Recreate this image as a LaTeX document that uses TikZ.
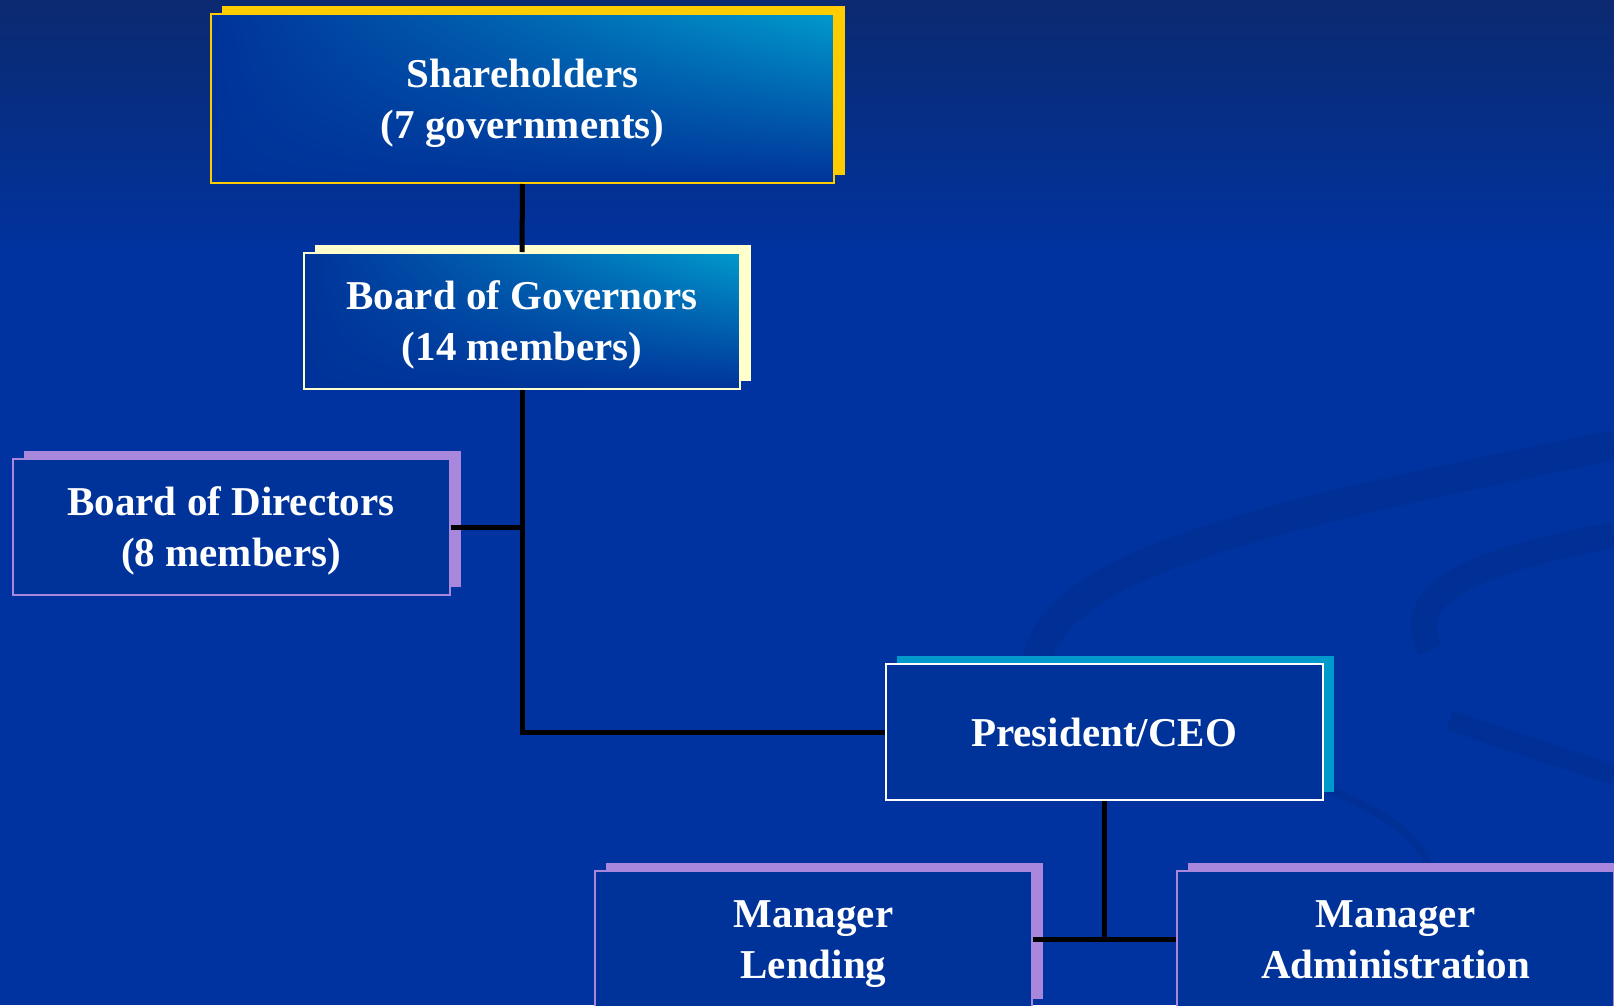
\documentclass[tikz,border=0pt]{standalone}
\usepackage{fontspec}
\setmainfont{Liberation Serif}
\usetikzlibrary{calc,shadows,shadings}
\definecolor{bgtop}{HTML}{0B2A70}
\definecolor{bgblue}{HTML}{0033A0}
\definecolor{boxblue}{HTML}{003399}
\definecolor{lightcyan}{HTML}{009ACC}
\definecolor{gold}{HTML}{FFCC00}
\definecolor{cream}{HTML}{FFFFCC}
\definecolor{lilac}{HTML}{A987DD}
\definecolor{sky}{HTML}{0099CC}
\definecolor{swoosh}{HTML}{002F95}
% struts so that every box text sits at the same height
\newcommand\tallrule{\rule{0pt}{40pt}}
\newcommand\lowrule{\rule[-12pt]{0pt}{0pt}}

\begin{document}
\begin{tikzpicture}[x=1pt,y=-1pt,
 box/.style={draw,line width=2pt,fill=boxblue,text=white,align=center,inner sep=0pt,
  minimum height=136pt,minimum width=437pt,font=\bfseries\fontsize{41}{51}\selectfont},
 glow/.style={shade,upper left=boxblue,upper right=lightcyan,lower left=boxblue,lower right=boxblue},
 shadowed/.style={drop shadow={shadow xshift=11pt,shadow yshift=8pt,opacity=1,fill=#1}},
 link/.style={line width=5pt,black}]
% background of the slide
\clip (0,0) rectangle (1614,1005);
\shade[top color=bgtop,bottom color=bgblue] (0,0) rectangle (1614,260);
\fill[bgblue] (0,259) rectangle (1614,1005);
%faint swooshes on the right
\draw[swoosh,line width=30pt] (1040,700) .. controls (1000,570) and (1250,520) .. (1614,445);
\draw[swoosh,line width=26pt] (1430,650) .. controls (1400,590) and (1480,560) .. (1614,535);
\draw[swoosh,line width=8pt] (1330,790) .. controls (1400,820) and (1440,850) .. (1430,900);
\draw[swoosh,line width=20pt] (1450,720) .. controls (1520,745) and (1570,760) .. (1614,775);
%The boxes:
\node[box,glow,draw=gold,shadowed=gold,minimum width=623pt,minimum height=169pt] (sh) at (522.5,98.5) {\tallrule Shareholders\\(7 governments)\lowrule};
\node[box,glow,draw=cream,shadowed=cream,minimum width=436pt] (gov) at (522,321) {\tallrule Board of Governors\\(14 members)\lowrule};
\node[box,draw=lilac,shadowed=lilac] (dir) at (231,527) {\tallrule Board of Directors\\(8 members)\lowrule};
\node[box,draw=white,shadowed=sky] (ceo) at (1104,732) {President/CEO};
\node[box,draw=lilac,shadowed=lilac] (lend) at (813.5,939) {\tallrule Manager\\Lending\lowrule};
\node[box,draw=lilac,shadowed=lilac] (adm) at (1395.5,939) {\tallrule Manager\\Administration\lowrule};
%Connecting lines:
\draw[link] (sh.south) -- (gov.north);
\draw[link] (gov.south) |- (ceo.west);
\draw[link] (dir.east) -- (dir.east -| gov.south);
\draw[link] (ceo.south) -- (lend.east -| ceo.south);
\draw[link] (lend.east) -- (adm.west);
\end{tikzpicture}
\end{document}
